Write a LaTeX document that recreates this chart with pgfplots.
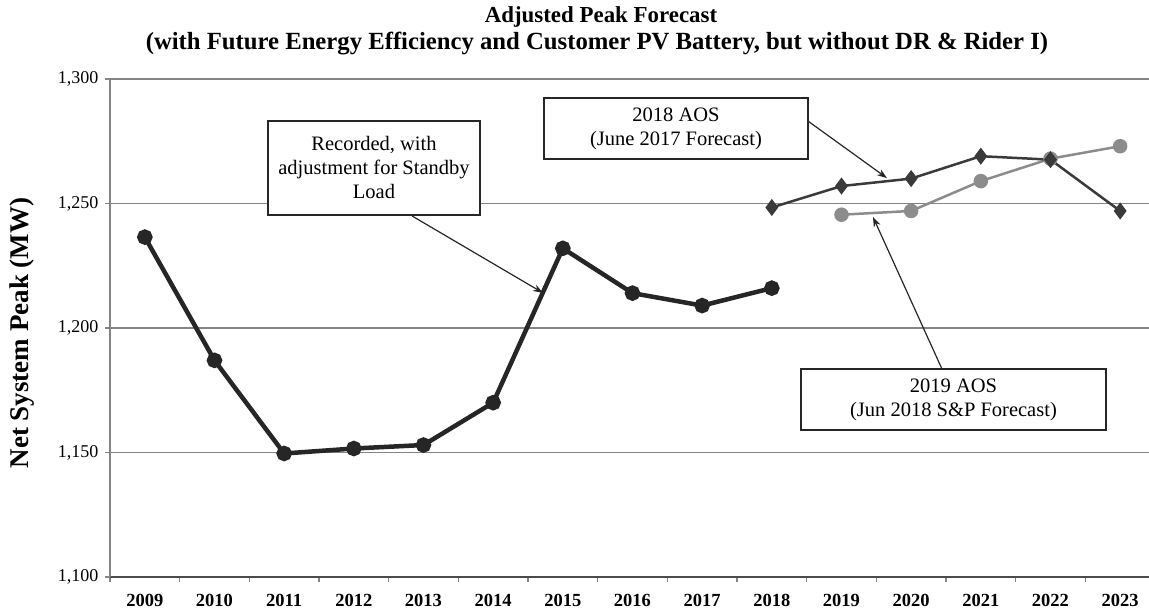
\documentclass[border=0pt]{standalone}
\usepackage{pgfplots}
\pgfplotsset{compat=1.18}
\usepackage{fontspec}
\setmainfont{Liberation Serif}
\usetikzlibrary{arrows.meta}
\definecolor{recc}{HTML}{262626}
\definecolor{aos18}{HTML}{3A3A3A}
\definecolor{aos19}{HTML}{8C8C8C}
\definecolor{gridc}{HTML}{858585}
\begin{document}
\begin{tikzpicture}
\path[use as bounding box] (0pt,0pt) rectangle (1149pt,612pt);
\node[font=\fontsize{22.9}{26}\selectfont\bfseries] at (601pt,595pt) {Adjusted Peak Forecast};
\node[font=\fontsize{24.7}{28}\selectfont\bfseries] at (597pt,568pt) {(with Future Energy Efficiency and Customer PV Battery, but without DR \& Rider I)};
\begin{axis}[
  at={(110pt,35pt)}, anchor=south west,
  scale only axis, width=1045pt, height=498pt,
  xmin=-0.5, xmax=14.5, ymin=1100, ymax=1300,
  axis x line*=bottom, axis y line*=left,
  axis line style={draw=gridc, line width=1.5pt},
  x axis line style={draw=black!70, line width=2pt},
  xtick={0,...,14},
  xticklabels={2009,2010,2011,2012,2013,2014,2015,2016,2017,2018,2019,2020,2021,2022,2023},
  minor xtick={-0.5,0.5,...,14.5},
  major x tick style={draw=none},
  minor x tick style={draw=gridc, line width=1.2pt},
  y tick style={draw=gridc, line width=1.2pt},
  tick align=outside, major tick length=5pt, minor tick length=5pt,
  ytick={1100,1150,1200,1250,1300},
  ymajorgrids, grid style={draw=gridc, line width=1.5pt},
  /pgf/number format/assume math mode=true,
  /pgf/number format/1000 sep={,},
  xticklabel style={font=\fontsize{18.5}{20}\selectfont\bfseries, yshift=-9pt},
  yticklabel style={font=\fontsize{18}{20}\selectfont, xshift=-3pt},
  ylabel={Net System Peak (MW)},
  ylabel style={font=\fontsize{27}{30}\selectfont\bfseries, at={(axis description cs:-0.0842,0.49)}, anchor=center},
  clip=false,
]
\addplot[aos19, line width=2.5pt, mark=*, mark size=6pt, mark options={fill=aos19, draw=aos19}] coordinates {
(10,1245.5) (11,1247) (12,1259) (13,1268) (14,1273)};
\addplot[aos18, line width=2.5pt, mark=diamond*, mark size=6.5pt, mark options={fill=aos18, draw=aos18}] coordinates {
(9,1248.4) (10,1257) (11,1260) (12,1269) (13,1267.6) (14,1247)};
\addplot[recc, line width=4.5pt, mark=*, mark size=5.5pt, mark options={fill=recc, draw=recc}] coordinates {
(0,1236.5) (1,1187) (2,1149.6) (3,1151.6) (4,1153) (5,1170) (6,1232) (7,1214) (8,1209) (9,1216)};
% annotations
\draw[black!85, line width=1.2pt, -{Stealth[length=10pt,width=7pt]}] (axis cs:3.835,1245) -- (axis cs:5.715,1214.1);
\draw[black!85, line width=1.2pt, -{Stealth[length=10pt,width=7pt]}] (axis cs:9.519,1283.1) -- (axis cs:10.653,1260.2);
\draw[black!85, line width=1.2pt, -{Stealth[length=10pt,width=7pt]}] (axis cs:11.443,1183.5) -- (axis cs:10.452,1244.6);
\node[draw=black!85, line width=1.5pt, fill=white, minimum width=212pt, minimum height=94pt, align=center, inner sep=0pt, font=\fontsize{20.5}{24}\selectfont] at (axis cs:3.29,1264.3) {Recorded, with\\adjustment for Standby\\Load};
\node[draw=black!85, line width=1.5pt, fill=white, minimum width=264pt, minimum height=61pt, align=center, inner sep=0pt, font=\fontsize{20.5}{24}\selectfont] at (axis cs:7.624,1280.1) {2018 AOS\\(June 2017 Forecast)};
\node[draw=black!85, line width=1.5pt, fill=white, minimum width=305pt, minimum height=61pt, align=center, inner sep=0pt, font=\fontsize{20.5}{24}\selectfont] at (axis cs:11.608,1171.3) {2019 AOS\\(Jun 2018 S\&P Forecast)};
\end{axis}
\end{tikzpicture}
\end{document}
